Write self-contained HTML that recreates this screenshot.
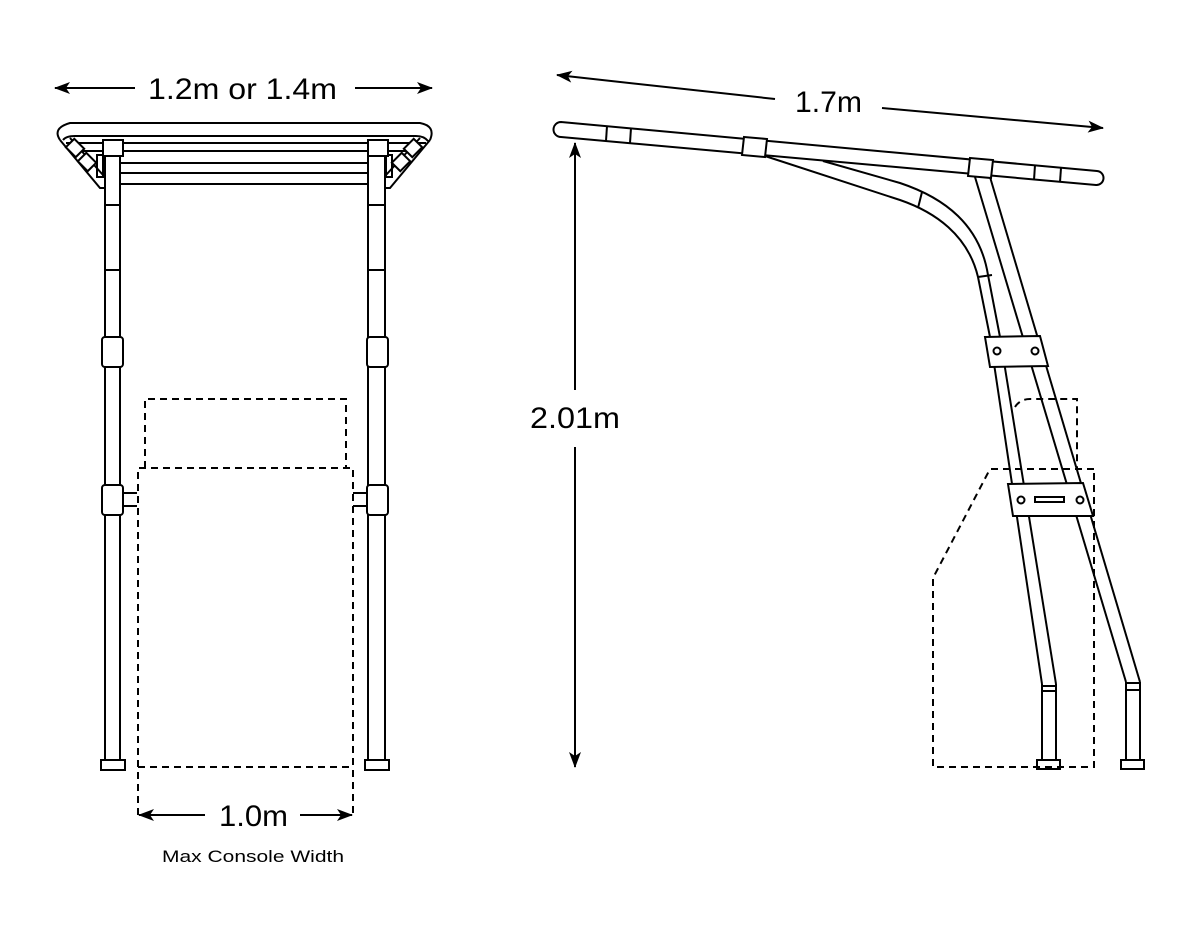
<!DOCTYPE html>
<html><head><meta charset="utf-8"><style>
html,body{margin:0;padding:0;background:#fff;}
svg{display:block}
text{font-family:"Liberation Sans",Arial,sans-serif;fill:#000}
</style></head><body>
<svg width="1200" height="950" viewBox="0 0 1200 950" xmlns="http://www.w3.org/2000/svg">
<defs>
<marker id="ah2" markerWidth="16" markerHeight="12" refX="15" refY="6" orient="auto" markerUnits="userSpaceOnUse">
<path d="M0,0 L16,6 L0,12 L4,6 Z" fill="#000"/>
</marker>
</defs>
<g fill="none" stroke="#000" stroke-width="2">
<!-- LEFT DRAWING -->
<line x1="135" y1="88" x2="55" y2="88" marker-end="url(#ah2)"/>
<line x1="355" y1="88" x2="432" y2="88" marker-end="url(#ah2)"/>
<path d="M60,140 Q52,128 70,123 L420,123 Q436,126 430,140"/>
<path d="M63,140 Q66,136 75,136 L416,136 Q424,136 428,141"/>
<line x1="66" y1="143" x2="426" y2="143"/>
<line x1="70" y1="151" x2="420" y2="151"/>
<line x1="120" y1="163" x2="368" y2="163"/>
<line x1="120" y1="173" x2="368" y2="173"/>
<line x1="120" y1="184" x2="368" y2="184"/>
<path d="M60,140 L100,188 L105,188"/>
<path d="M70,138 L103,175"/>
<rect x="68" y="142" width="14" height="12" transform="rotate(45 75 148)" fill="#fff"/>
<rect x="80" y="156" width="14" height="12" transform="rotate(45 87 162)" fill="#fff"/>
<rect x="97" y="155" width="6" height="22"/>
<path d="M430,140 L390,188 L385,188"/>
<path d="M420,138 L386,175"/>
<rect x="406" y="142" width="14" height="12" transform="rotate(-45 413 148)" fill="#fff"/>
<rect x="394" y="156" width="14" height="12" transform="rotate(-45 401 162)" fill="#fff"/>
<rect x="386" y="155" width="6" height="22"/>
<line x1="105" y1="156" x2="105" y2="760"/>
<line x1="120" y1="156" x2="120" y2="760"/>
<line x1="368" y1="156" x2="368" y2="760"/>
<line x1="385" y1="156" x2="385" y2="760"/>
<line x1="105" y1="205" x2="120" y2="205"/><line x1="105" y1="270" x2="120" y2="270"/>
<line x1="368" y1="205" x2="385" y2="205"/><line x1="368" y1="270" x2="385" y2="270"/>
<rect x="103" y="140" width="20" height="16" fill="#fff"/>
<rect x="368" y="140" width="20" height="16" fill="#fff"/>
<rect x="102" y="337" width="21" height="30" rx="3" fill="#fff"/>
<rect x="367" y="337" width="21" height="30" rx="3" fill="#fff"/>
<rect x="102" y="485" width="21" height="30" rx="3" fill="#fff"/>
<rect x="367" y="485" width="21" height="30" rx="3" fill="#fff"/>
<line x1="123" y1="493" x2="137" y2="493"/><line x1="123" y1="506" x2="137" y2="506"/>
<line x1="353" y1="493" x2="367" y2="493"/><line x1="353" y1="506" x2="367" y2="506"/>
<rect x="101" y="760" width="24" height="10" fill="#fff"/>
<rect x="365" y="760" width="24" height="10" fill="#fff"/>
<g stroke-dasharray="7,5">
<path d="M145,468 L145,399 L346,399 L346,468"/>
<path d="M138,815 L138,468 L353,468 L353,815"/>
<line x1="138" y1="767" x2="353" y2="767"/>
</g>
<line x1="205" y1="815" x2="139" y2="815" marker-end="url(#ah2)"/>
<line x1="300" y1="815" x2="352" y2="815" marker-end="url(#ah2)"/>

<!-- RIGHT DRAWING -->
<line x1="775" y1="99" x2="557" y2="75" marker-end="url(#ah2)"/>
<line x1="882" y1="108" x2="1103" y2="128" marker-end="url(#ah2)"/>
<line x1="575" y1="390" x2="575" y2="143" marker-end="url(#ah2)"/>
<line x1="575" y1="447" x2="575" y2="767" marker-end="url(#ah2)"/>
<path d="M561,122 L1097,171 A7,7 0 0 1 1096,185 L561,137 A7.5,7.5 0 0 1 561,122 Z" fill="#fff"/>
<line x1="607" y1="126" x2="606" y2="141"/>
<line x1="631" y1="128" x2="630" y2="143"/>
<line x1="1035" y1="165" x2="1034" y2="180"/>
<line x1="1061" y1="168" x2="1060" y2="182"/>
<!-- strut -->
<path d="M823,161 L900,183 C945,198 980,225 988,275 L1000,337"/>
<path d="M765,156 L900,200 C935,212 968,235 978,277 L990,337"/>
<line x1="922" y1="192" x2="918" y2="208"/>
<line x1="978" y1="277" x2="992" y2="275"/>
<!-- tubes -->
<line x1="975" y1="177" x2="1126" y2="682"/>
<line x1="990" y1="177" x2="1140" y2="682"/>
<line x1="990" y1="337" x2="1042" y2="684"/>
<line x1="1000" y1="337" x2="1056" y2="684"/>
<polygon points="744,137 767,139 765,157 742,155" fill="#fff"/>
<polygon points="970,158 993,160 991,178 968,176" fill="#fff"/>
<path d="M1042,684 L1042,760 M1056,684 L1056,760 M1042,686 L1056,686 M1042,691 L1056,691"/>
<path d="M1126,682 L1126,760 M1140,682 L1140,760 M1126,683 L1140,683 M1126,690 L1140,690"/>
<rect x="1037" y="760" width="23" height="9" fill="#fff"/>
<rect x="1121" y="760" width="23" height="9" fill="#fff"/>
<polygon points="985,337 1040,336 1048,366 990,367" fill="#fff"/>
<circle cx="997" cy="351" r="3.5"/><circle cx="1035" cy="351" r="3.5"/>
<g stroke-dasharray="7,5">
<path d="M1015,407 Q1020,399 1030,399 L1077,399 L1077,468"/>
<path d="M1094,469 L990,469 L933,578 L933,767 L1094,767 Z"/>
</g>
<polygon points="1008,484 1083,483 1093,516 1013,516" fill="#fff"/>
<circle cx="1021" cy="500" r="3.5"/><circle cx="1080" cy="500" r="3.5"/>
<rect x="1035" y="497" width="29" height="5"/>
</g>
<text x="148" y="99" font-size="30" textLength="189" lengthAdjust="spacingAndGlyphs">1.2m or 1.4m</text>
<text x="219" y="826" font-size="30" textLength="69" lengthAdjust="spacingAndGlyphs">1.0m</text>
<text x="162" y="862" font-size="17" textLength="182" lengthAdjust="spacingAndGlyphs">Max Console Width</text>
<text x="795" y="112" font-size="30" textLength="67" lengthAdjust="spacingAndGlyphs">1.7m</text>
<text x="530" y="428" font-size="30" textLength="90" lengthAdjust="spacingAndGlyphs">2.01m</text>
</svg>
</body></html>
